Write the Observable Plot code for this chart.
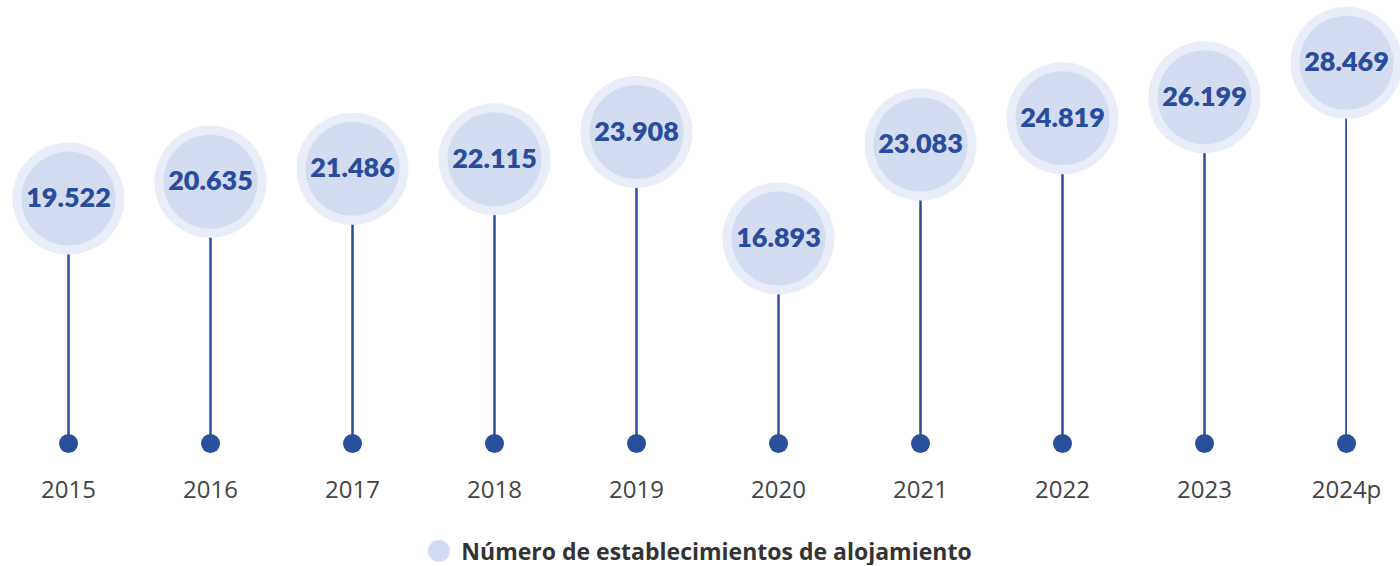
<!DOCTYPE html>
<html>
<head>
<meta charset="utf-8">
<script src="https://cdn.jsdelivr.net/npm/d3@7"></script>
<script src="https://cdn.jsdelivr.net/npm/@observablehq/plot@0.6"></script>
<style>
  html, body { margin: 0; padding: 0; background: #fff; }
  #chart { width: 1400px; }
  .legend { display: flex; justify-content: center; align-items: center; gap: 11px; margin-top: 17px;
    font-family: "Open Sans", Lato, sans-serif; font-weight: 700; font-size: 23px; color: #333; line-height: 28px; }
  .legend .sw { width: 22px; height: 22px; border-radius: 50%; background: #d3dcf2; }
</style>
</head>
<body>
<div id="chart"></div>
<script>
const years = ["2015", "2016", "2017", "2018", "2019", "2020", "2021", "2022", "2023", "2024p"];
const establecimientos = [19522, 20635, 21486, 22115, 23908, 16893, 23083, 24819, 26199, 28469];
const seriesName = "Número de establecimientos de alojamiento";

const data = years.map((year, i) => ({year, value: establecimientos[i]}));
const fmt = d3.formatLocale({decimal: ",", thousands: ".", grouping: [3], currency: ["", "€"]}).format(",d");

const plot = Plot.plot({
  width: 1400,
  height: 520,
  marginTop: 39,
  marginBottom: 77,
  marginLeft: 67,
  marginRight: 53,
  style: {fontFamily: "'Open Sans', sans-serif", background: "transparent"},
  x: {type: "point", domain: years, padding: 0, label: null},
  y: {domain: [3395, 30000], axis: null},
  marks: [
    Plot.axisX({tickSize: 0, tickPadding: 37, fontSize: 24, color: "#444", label: null}),
    Plot.ruleX(data, {x: "year", y1: "value", stroke: "#2a4f9c", strokeWidth: 2.5, clip: true}),
    Plot.dot(data, {x: "year", frameAnchor: "bottom", r: 9.5, fill: "#2a4f9c"}),
    Plot.dot(data, {x: "year", y: "value", r: 56, fill: "#e9edf8"}),
    Plot.dot(data, {x: "year", y: "value", r: 47, fill: "#d4dcf2"}),
    Plot.text(data, {x: "year", y: "value", text: d => fmt(d.value), fill: "#2a4c9c",
      fontSize: 27, fontWeight: 800, fontFamily: "Lato, sans-serif"})
  ]
});
document.getElementById("chart").appendChild(plot);

const legend = document.createElement("div");
legend.className = "legend";
legend.innerHTML = `<span class="sw"></span><span>${seriesName}</span>`;
document.getElementById("chart").appendChild(legend);
</script>
</body>
</html>
